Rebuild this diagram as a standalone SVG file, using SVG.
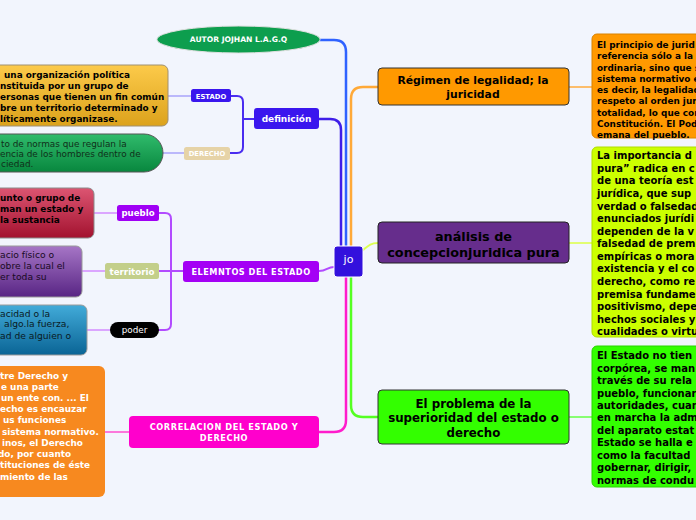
<svg xmlns="http://www.w3.org/2000/svg" width="696" height="520" viewBox="0 0 696 520">
<defs>
<linearGradient id="gGold" x1="0" y1="0" x2="0" y2="1"><stop offset="0" stop-color="#fcca4a"/><stop offset="1" stop-color="#dca21c"/></linearGradient>
<linearGradient id="gGreen" x1="0" y1="0" x2="0" y2="1"><stop offset="0" stop-color="#30bb6c"/><stop offset="1" stop-color="#08873e"/></linearGradient>
<linearGradient id="gRed" x1="0" y1="0" x2="0" y2="1"><stop offset="0" stop-color="#dc5572"/><stop offset="1" stop-color="#a3122f"/></linearGradient>
<linearGradient id="gPurple" x1="0" y1="0" x2="0" y2="1"><stop offset="0" stop-color="#a676c6"/><stop offset="1" stop-color="#582584"/></linearGradient>
<linearGradient id="gBlue" x1="0" y1="0" x2="0" y2="1"><stop offset="0" stop-color="#42abd9"/><stop offset="1" stop-color="#0a6495"/></linearGradient>
</defs>
<style>
text{font-family:"DejaVu Sans","Verdana",sans-serif}
.b{font-weight:bold}
.w{fill:#ffffff}
.k{fill:#000000}
.c{text-anchor:middle}
.conn path{fill:none;stroke-linecap:round;stroke-linejoin:round}
.lt{font-size:8.9px;font-weight:bold}
.lr{font-size:9.2px}
</style>
<rect x="0" y="0" width="696" height="520" fill="#f2f5fd"/>

<g id="connectors" class="conn">
<path d="M320,40 L334,40 Q346,40 346,52 V247" stroke="#2f62ff" stroke-width="2.5"/>
<path d="M319,119 L330,119 Q341,119 341,130 V247" stroke="#3f1ee8" stroke-width="2.5"/>
<path d="M351,247 V99 Q351,87 363,87 H378" stroke="#ffa938" stroke-width="2.5"/>
<path d="M362,251 C368,246 370,243 378,243" stroke="#dcff50" stroke-width="2"/>
<path d="M351,276 V405 Q351,417 363,417 H378" stroke="#55ff22" stroke-width="2.5"/>
<path d="M346,276 V420 Q346,432 334,432 H319" stroke="#ff1ccc" stroke-width="2.5"/>
<path d="M319,271 C327,271 327,267 334,267" stroke="#b24bff" stroke-width="2"/>
<path d="M254,119 H243 M231,96 H237 Q243,96 243,102 V147 Q243,153 237,153 H230" stroke="#4a2cf0" stroke-width="2"/>
<path d="M183,271 H159 M159,213 H165 Q171,213 171,219 V324 Q171,330 165,330 H159" stroke="#b24bff" stroke-width="2"/>
<path d="M191,96 H168 M184,153 H162" stroke="#a9a4fa" stroke-width="1.5"/>
<path d="M117,213 H94 M105,271 H82 M110,330 H87" stroke="#d38cff" stroke-width="1.5"/>
<path d="M129,432 H105" stroke="#ff4fd0" stroke-width="1.5"/>
<path d="M569,87 H592" stroke="#ffab3c" stroke-width="1.5"/>
<path d="M569,243 H592" stroke="#ddff44" stroke-width="1.5"/>
<path d="M569,417 H592" stroke="#66ff44" stroke-width="1.5"/>
</g>

<g id="jo">
<rect x="334" y="246" width="29" height="31" rx="3" fill="#3311dd" stroke="#ffffff" stroke-width="1"/>
<text x="348.5" y="263" class="w c" font-size="11">jo</text>
</g>

<g id="autor">
<ellipse cx="238.5" cy="39.5" rx="81.5" ry="13.5" fill="#0d9e4e" stroke="#e0e0e0" stroke-width="1"/>
<text x="238.5" y="42.3" class="w b c" font-size="7.6">AUTOR JOJHAN L.A.G.Q</text>
</g>

<g id="definicion">
<rect x="254" y="108" width="65" height="21" rx="3" fill="#3a16ee"/>
<text x="286.5" y="122.3" class="w b c" font-size="9">definición</text>
</g>
<g id="estado">
<rect x="191" y="89" width="40" height="13" rx="2.5" fill="#3a16ee"/>
<text x="211" y="98.5" class="w b c" font-size="6.8">ESTADO</text>
</g>
<g id="derecho">
<rect x="184" y="147" width="46" height="13" rx="2.5" fill="#e6d3a7"/>
<text x="207" y="155.8" class="w b c" font-size="6.8">DERECHO</text>
</g>
<g id="estado-text">
<rect x="-20" y="65" width="188" height="61" rx="6" fill="url(#gGold)" stroke="#a09070" stroke-width="1"/>
<text class="lt k"><tspan x="4" y="78.2">una organización política</tspan><tspan x="0" y="89.2">nstituida por un grupo de</tspan><tspan x="0" y="100.2">ersonas que tienen un fin común</tspan><tspan x="0" y="111.2">bre un territorio determinado y</tspan><tspan x="0" y="122.2">líticamente organizase.</tspan></text>
</g>
<g id="derecho-text">
<path d="M-20,134 H144 A19,19 0 0 1 144,172 H-20 Z" fill="url(#gGreen)" stroke="#555" stroke-width="1"/>
<text font-size="8.9" fill="#10301a"><tspan x="1" y="146.5">to de normas que regulan la</tspan><tspan x="0" y="156.7">encia de los hombres dentro de</tspan><tspan x="1" y="167">ciedad.</tspan></text>
</g>

<g id="elementos">
<rect x="183" y="261" width="136" height="21" rx="3" fill="#a400f5"/>
<text x="251" y="274.7" class="w b c" font-size="8.2" letter-spacing="0.5">ELEMNTOS DEL ESTADO</text>
</g>
<g id="pueblo">
<rect x="117" y="205" width="42" height="16" rx="2.5" fill="#a000f5"/>
<text x="138" y="216.2" class="w b c" font-size="8.6">pueblo</text>
</g>
<g id="territorio">
<rect x="105" y="263" width="54" height="16" rx="2.5" fill="#c3cf8a"/>
<text x="132" y="274.8" class="w b c" font-size="8.7">territorio</text>
</g>
<g id="poder">
<rect x="110" y="322" width="49" height="16" rx="8" fill="#000000"/>
<text x="134.5" y="333.2" class="w c" font-size="8.8">poder</text>
</g>
<g id="pueblo-text">
<rect x="-20" y="188" width="114" height="50" rx="6" fill="url(#gRed)" stroke="#8a8a8a" stroke-width="1"/>
<text class="lt k"><tspan x="0" y="200.5">unto o grupo de</tspan><tspan x="0" y="211.6">man un estado y</tspan><tspan x="0" y="222.5">la sustancia</tspan></text>
</g>
<g id="territorio-text">
<rect x="-20" y="246" width="102" height="51" rx="6" fill="url(#gPurple)" stroke="#9a9a9a" stroke-width="1"/>
<text class="lr" fill="#1a0a24"><tspan x="0" y="258.4">acio físico o</tspan><tspan x="0" y="269.2">obre la cual el</tspan><tspan x="0" y="280.4">er toda su</tspan></text>
</g>
<g id="poder-text">
<rect x="-20" y="305" width="107" height="50" rx="6" fill="url(#gBlue)" stroke="#9a9a9a" stroke-width="1"/>
<text class="lr" fill="#0a1a24"><tspan x="0" y="316.6">acidad o la</tspan><tspan x="4" y="327.4">algo.la fuerza,</tspan><tspan x="0" y="339">ad de alguien o</tspan></text>
</g>

<g id="correlacion">
<rect x="129" y="416" width="190" height="32" rx="4" fill="#ff00cc"/>
<text class="w b c" font-size="8.2" letter-spacing="0.6"><tspan x="224" y="429.6">CORRELACION DEL ESTADO Y</tspan><tspan x="224" y="440.8">DERECHO</tspan></text>
</g>
<g id="correlacion-text">
<rect x="-20" y="366" width="125" height="131" rx="6" fill="#f7891f"/>
<text class="lt w"><tspan x="0" y="378.5">tre Derecho y</tspan><tspan x="1" y="389.7">e una parte</tspan><tspan x="1" y="400.9">un ente con. ... El</tspan><tspan x="0" y="412.2">echo es encauzar</tspan><tspan x="3" y="423.4">us funciones</tspan><tspan x="2" y="434.6">sistema normativo.</tspan><tspan x="2" y="445.8">inos, el Derecho</tspan><tspan x="-2" y="457">do, por cuanto</tspan><tspan x="0" y="468.3">tituciones de éste</tspan><tspan x="0" y="479.5">miento de las</tspan></text>
</g>

<g id="regimen">
<rect x="378" y="68" width="191" height="37" rx="4" fill="#ff9900" stroke="#333" stroke-width="1"/>
<text class="k b c" font-size="10.8"><tspan x="473" y="83.8">Régimen de legalidad; la</tspan><tspan x="473" y="97.8">juricidad</tspan></text>
</g>
<g id="analisis">
<rect x="378" y="222" width="191" height="41" rx="4" fill="#662d8c" stroke="#222" stroke-width="1"/>
<text class="k b c" font-size="12.8"><tspan x="473.5" y="240.6">análisis de</tspan><tspan x="473.5" y="256.6">concepcionjuridica pura</tspan></text>
</g>
<g id="problema">
<rect x="378" y="390" width="191" height="54" rx="4" fill="#33ff00" stroke="#333" stroke-width="1"/>
<text class="k b c" font-size="11.8"><tspan x="473.5" y="407.6">El problema de la</tspan><tspan x="473.5" y="422">superioridad del estado o</tspan><tspan x="473.5" y="436.8">derecho</tspan></text>
</g>

<g id="regimen-text">
<rect x="592" y="34" width="130" height="104" rx="5" fill="#ff9900" stroke="#d98200" stroke-width="1"/>
<text class="k b" font-size="8.9"><tspan x="597" y="48.2">El principio de jurid</tspan><tspan x="597" y="59.4">referencia sólo a la</tspan><tspan x="597" y="70.7">ordinaria, sino que s</tspan><tspan x="597" y="81.9">sistema normativo e</tspan><tspan x="597" y="93.2">es decir, la legalidad</tspan><tspan x="597" y="104.4">respeto al orden jur</tspan><tspan x="597" y="115.7">totalidad, lo que con</tspan><tspan x="597" y="126.9">Constitución. El Pod</tspan><tspan x="597" y="138.2">emana del pueblo.</tspan></text>
</g>
<g id="analisis-text">
<rect x="592" y="147" width="130" height="190" rx="5" fill="#ccff00" stroke="#b0dd00" stroke-width="1"/>
<text class="k b" font-size="10"><tspan x="597" y="159.2">La importancia d</tspan><tspan x="597" y="171.8">pura” radica en c</tspan><tspan x="597" y="184.3">de una teoría est</tspan><tspan x="597" y="196.9">jurídica, que sup</tspan><tspan x="597" y="209.5">verdad o falsedad</tspan><tspan x="597" y="222">enunciados jurídi</tspan><tspan x="597" y="234.6">dependen de la v</tspan><tspan x="597" y="247.2">falsedad de prem</tspan><tspan x="597" y="259.8">empíricas o mora</tspan><tspan x="597" y="272.3">existencia y el co</tspan><tspan x="597" y="284.9">derecho, como re</tspan><tspan x="597" y="297.5">premisa fundame</tspan><tspan x="597" y="310">positivismo, depe</tspan><tspan x="597" y="322.6">hechos sociales y</tspan><tspan x="597" y="335.2">cualidades o virtu</tspan></text>
</g>
<g id="problema-text">
<rect x="592" y="346" width="130" height="141" rx="5" fill="#33ff00" stroke="#2ad400" stroke-width="1"/>
<text class="k b" font-size="10"><tspan x="597" y="359.2">El Estado no tien</tspan><tspan x="597" y="371.6">corpórea, se man</tspan><tspan x="597" y="384">través de su rela</tspan><tspan x="597" y="396.5">pueblo, funcionar</tspan><tspan x="597" y="408.9">autoridades, cuan</tspan><tspan x="597" y="421.3">en marcha la adm</tspan><tspan x="597" y="433.7">del aparato estat</tspan><tspan x="597" y="446.2">Estado se halla e</tspan><tspan x="597" y="458.6">como la facultad</tspan><tspan x="597" y="471">gobernar, dirigir,</tspan><tspan x="597" y="483.5">normas de condu</tspan></text>
</g>
</svg>
